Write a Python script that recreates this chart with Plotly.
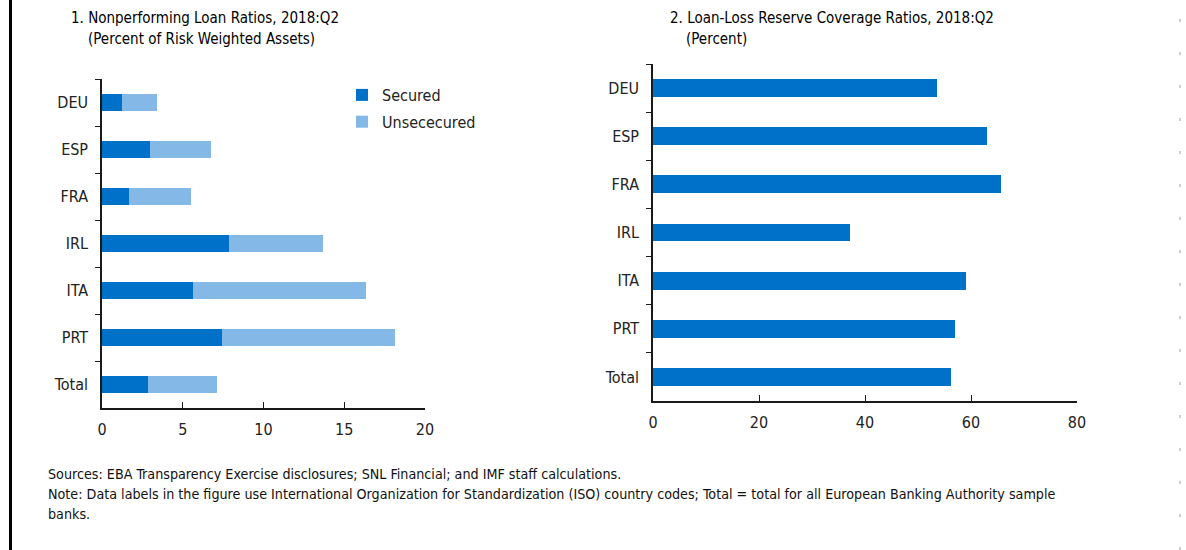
import plotly.graph_objects as go

W, H = 1186, 550

categories = ["DEU", "ESP", "FRA", "IRL", "ITA", "PRT", "Total"]
secured = [1.26, 2.98, 1.67, 7.87, 5.64, 7.44, 2.87]
unsecured = [2.13, 3.78, 3.87, 5.79, 10.68, 10.69, 4.28]
coverage = [53.6, 63.1, 65.6, 37.2, 59.1, 56.9, 56.3]

left_ticks = [0, 5, 10, 15, 20]
right_ticks = [0, 20, 40, 60, 80]

title1 = "1. Nonperforming Loan Ratios, 2018:Q2"
subtitle1 = "(Percent of Risk Weighted Assets)"
title2 = "2. Loan-Loss Reserve Coverage Ratios, 2018:Q2"
subtitle2 = "(Percent)"
notes = [
    "Sources: EBA Transparency Exercise disclosures; SNL Financial; and IMF staff calculations.",
    "Note: Data labels in the figure use International Organization for Standardization (ISO) country codes; Total = total for all European Banking Authority sample",
    "banks.",
]

C_SEC = "#0071C9"
C_UNS = "#84B8E6"
FONT = "Liberation Sans Narrow, Arial Narrow, DejaVu Sans Condensed, sans-serif"


def px(x):
    return x / W


def py(y):
    return 1 - y / H


fig = go.Figure()
fig.add_trace(go.Bar(y=categories, x=secured, orientation="h", name="Secured",
                     marker=dict(color=C_SEC, line=dict(width=0)),
                     xaxis="x", yaxis="y", legendgroup="a"))
fig.add_trace(go.Bar(y=categories, x=unsecured, orientation="h", name="Unsececured",
                     marker=dict(color=C_UNS, line=dict(width=0)),
                     xaxis="x", yaxis="y", legendgroup="b"))
fig.add_trace(go.Bar(y=categories, x=coverage, orientation="h", name="Coverage",
                     marker=dict(color=C_SEC, line=dict(width=0)),
                     xaxis="x2", yaxis="y2", showlegend=False))

xax = dict(showgrid=False, zeroline=False, showline=True, linecolor="#1a1a1a", linewidth=1.5,
           ticks="inside", ticklen=6, tickcolor="#1a1a1a", tickwidth=1.2,
           tickfont=dict(family=FONT, size=16, color="#222"), ticklabelstandoff=6,
           fixedrange=True, automargin=False)
yax = dict(showgrid=False, zeroline=False, showline=True, linecolor="#1a1a1a", linewidth=1.5,
           ticks="outside", ticklen=5, tickcolor="#1a1a1a", tickwidth=1.2, tickson="boundaries",
           tickfont=dict(family=FONT, size=16, color="#222"), ticklabelstandoff=9,
           type="category", categoryorder="array", categoryarray=categories,
           range=[6.5, -0.5], fixedrange=True, automargin=False)

fig.update_layout(
    width=W, height=H, margin=dict(l=0, r=0, t=0, b=0, autoexpand=False),
    paper_bgcolor="white", plot_bgcolor="white",
    barmode="stack", bargap=0.63,
    font=dict(family=FONT, size=16, color="#222"),
    xaxis=dict(xax, domain=[px(102), px(425)], range=[0, 20], tickvals=left_ticks, anchor="y"),
    yaxis=dict(yax, domain=[py(408), py(79)], anchor="x"),
    xaxis2=dict(xax, domain=[px(653), px(1077)], range=[0, 80], tickvals=right_ticks, anchor="y2"),
    yaxis2=dict(yax, domain=[py(401), py(64)], anchor="x2"),
    legend=dict(x=px(342), y=py(78), xanchor="left", yanchor="top",
                font=dict(family=FONT, size=16, color="#222"),
                bgcolor="rgba(0,0,0,0)", tracegroupgap=3, itemwidth=30),
    showlegend=True,
)

ann = []
def txt(x, y, s, size=16, color="#111"):
    ann.append(dict(x=px(x), y=py(y), xref="paper", yref="paper", xanchor="left", yanchor="middle",
                    text=s, showarrow=False,
                    font=dict(family=FONT, size=size, color=color)))

txt(69, 18, title1, size=15, color="#000")
txt(86, 39, subtitle1, size=15, color="#000")
txt(668, 18, title2, size=15, color="#000")
txt(684, 39, subtitle2, size=15, color="#000")
for i, n in enumerate(notes):
    txt(46, 474 + 20 * i, n, size=14.2)
fig.update_layout(annotations=ann)

fig.update_layout(shapes=[
    dict(type="line", xref="paper", yref="paper", x0=px(10.5), x1=px(10.5), y0=0, y1=1,
         line=dict(color="black", width=3)),
    dict(type="line", xref="paper", yref="paper", x0=px(1180), x1=px(1180), y0=0, y1=1,
         line=dict(color="#bdbdbd", width=1.5, dash="3px,30px")),
])

fig.write_html("out.html", config={"displayModeBar": False},
               post_script="document.body.style.margin='0';document.body.style.overflow='hidden';")
